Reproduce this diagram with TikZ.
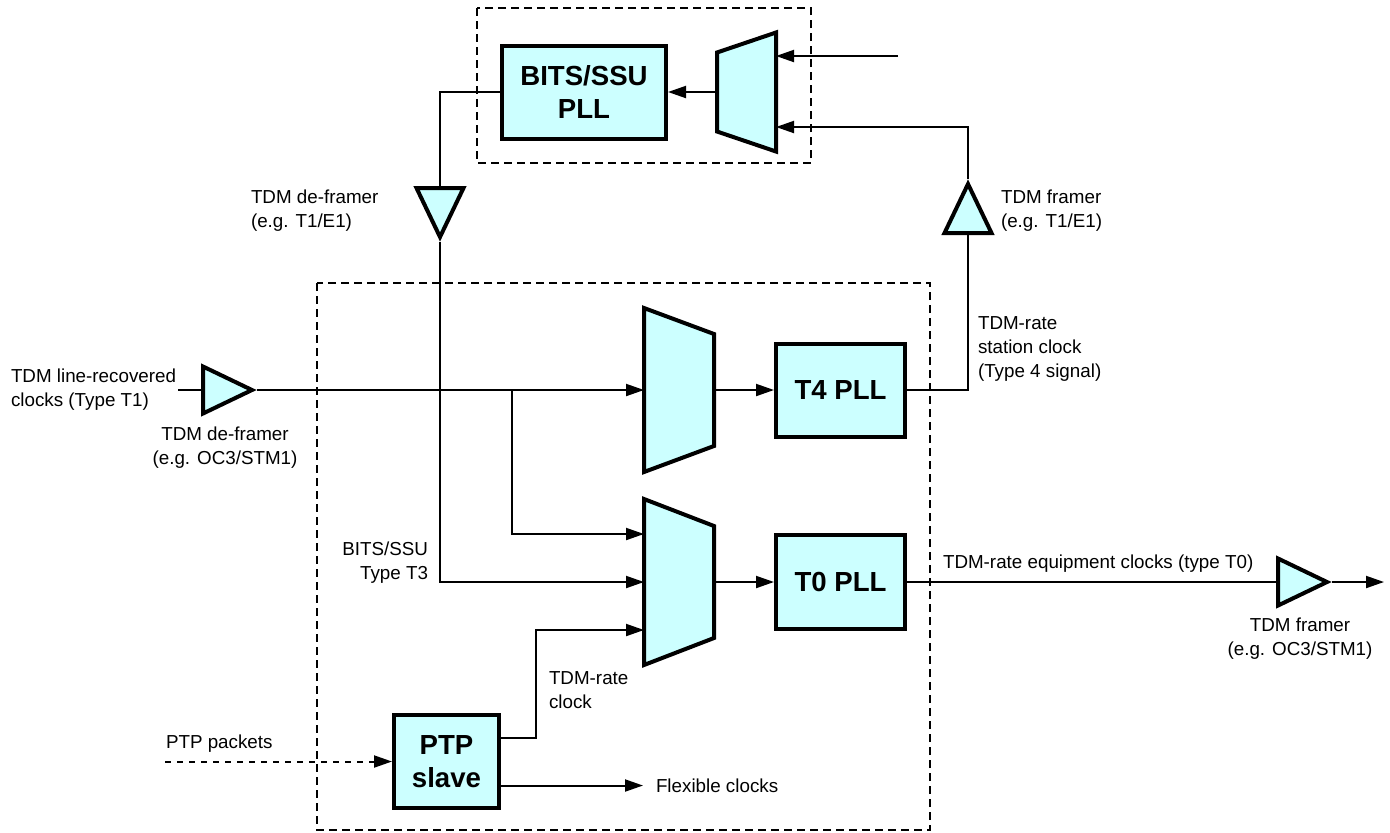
\documentclass[tikz,border=0pt]{standalone}
\usepackage{fontspec}
\setmainfont{Liberation Sans}
\usetikzlibrary{arrows.meta,shapes.geometric}
\definecolor{ciano}{HTML}{CCFFFF}
\begin{document}
\begin{tikzpicture}[x=0.5pt, y=-0.5pt, line width=1pt,
  font=\fontsize{9.4}{12}\selectfont,
  blk/.style={draw, fill=ciano, line width=2pt, align=center, inner sep=0pt,
        font=\fontsize{13.8}{16.5}\selectfont\bfseries},
  mx/.style={inner sep=0pt, outer sep=0pt},
  mxd/.style={draw, fill=ciano, line width=2pt, line join=miter},
  buf/.style={draw, fill=ciano, line width=2pt, isosceles triangle, anchor=lower side,
        isosceles triangle stretches, minimum width=23.5pt, minimum height=24.5pt, inner sep=0pt},
  lbl/.style={inner sep=0pt, align=left},
  sig/.style={-{Triangle[length=9pt,width=6pt]}},
  caixa/.style={dash pattern=on 4pt off 2.5pt, line width=0.9pt},
]
  \useasboundingbox (0,0) rectangle (1390,832);
  \draw[caixa] (477,8) rectangle (811,163);
  \draw[caixa] (317,283) rectangle (930,830);

  \node[blk, minimum width=82pt, minimum height=46.5pt] (bits) at (584,92) {BITS/SSU\\PLL};
  \node[blk, minimum width=64.5pt, minimum height=46.5pt] (t4) at (840.5,390) {T4 PLL};
  \node[blk, minimum width=64.5pt, minimum height=47pt] (t0) at (840.5,582) {T0 PLL};
  \node[blk, minimum width=52.5pt, minimum height=46.5pt] (ptp) at (446.5,761.5) {PTP\\slave};
  \node[mx, minimum width=29.5pt, minimum height=59.5pt] (muxtop) at (746.5,92) {};
  \node[mx, minimum width=35pt, minimum height=82pt] (mux1) at (679,390) {};
  \node[mx, minimum width=35pt, minimum height=83pt] (mux2) at (679,582) {};
  \draw[mxd] (muxtop.north east) -- ([yshift=-10pt]muxtop.north west) -- ([yshift=10pt]muxtop.south west) -- (muxtop.south east) -- cycle;
  \draw[mxd] (mux1.north west) -- ([yshift=-13pt]mux1.north east) -- ([yshift=13pt]mux1.south east) -- (mux1.south west) -- cycle;
  \draw[mxd] (mux2.north west) -- ([yshift=-13.5pt]mux2.north east) -- ([yshift=13.5pt]mux2.south east) -- (mux2.south west) -- cycle;
  \node[buf] (bin) at (201,390) {};
  \node[buf, rotate=-90] (bdn) at (440,186) {};
  \node[buf, rotate=90] (bup) at (968,235) {};
  \node[buf] (bout) at (1276,582) {};

  \node[lbl, anchor=west] (lin) at (10,390) {TDM line-recovered\\clocks (Type T1)};
  \node[lbl, align=center] (ldf1) at (225,448) {TDM de-framer\\(e.g. OC3/STM1)};
  \node[lbl, anchor=west] (ldf2) at (250,211) {TDM de-framer\\(e.g. T1/E1)};
  \node[lbl, anchor=west] (lfr1) at (1000,211) {TDM framer\\(e.g. T1/E1)};
  \node[lbl, anchor=west] (lst) at (977,349) {TDM-rate\\station clock\\(Type 4 signal)};
  \node[lbl, align=right, anchor=east] (lt3) at (429,563) {BITS/SSU\\Type T3};
  \node[lbl, anchor=west] (leq) at (942,564) {TDM-rate equipment clocks (type T0)};
  \node[lbl, align=center] (lfr2) at (1300,639) {TDM framer\\(e.g. OC3/STM1)};
  \node[lbl, anchor=west] (lrate) at (548,690) {TDM-rate\\clock};
  \node[lbl, anchor=west] (lpkt) at (165,744) {PTP packets};
  \node[lbl, anchor=west] (flex) at (655,785.5) {Flexible clocks};

  \coordinate (tin) at (178,390);
  \coordinate (split) at (512,390);
  \coordinate (ext) at (898,56);
  \coordinate (pin) at (165,761.5);
  \coordinate (oend) at (1384,582);

  \draw (tin) -- (bin.lower side);
  \draw[sig] (bin.apex) -- (mux1.west);
  \draw[sig] (split) |- ([yshift=24pt]mux2.west);
  \draw[sig] (mux1.east) -- (t4.west);
  \draw (t4.east) -| (bup.lower side);
  \draw[sig] (bup.apex) |- ([yshift=-17.5pt]muxtop.east);
  \draw[sig] (ext) -- (ext -| muxtop.east);
  \draw[sig] (muxtop.west) -- (bits.east);
  \draw (bits.west) -| (bdn.lower side);
  \draw[sig] (bdn.apex) |- (mux2.west);
  \draw[sig] (mux2.east) -- (t0.west);
  \draw (t0.east) -- (bout.lower side);
  \draw[sig] (bout.apex) -- (oend);
  \draw[sig] ([yshift=12pt]ptp.east) -- ++(35,0) |- ([yshift=-24pt]mux2.west);
  \draw[sig] ([yshift=-12pt]ptp.east) -- ([xshift=-6pt]flex.west);
  \draw[sig, dashed] (pin) -- (ptp.west);
\end{tikzpicture}
\end{document}
